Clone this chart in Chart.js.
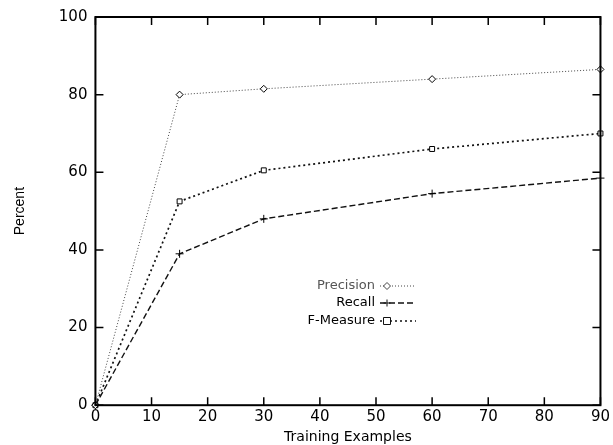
<!DOCTYPE html>
<html>
<head>
<meta charset="utf-8">
<script src="https://cdn.jsdelivr.net/npm/chart.js@4.4.1/dist/chart.umd.min.js"></script>
<style>
  html, body { margin: 0; padding: 0; background: #fff; }
  #wrap { width: 613px; height: 445px; position: relative; }
</style>
</head>
<body>
<div id="wrap"><canvas id="chart"></canvas></div>
<script>
const trainingExamples = [0, 15, 30, 60, 90];
const precision = [0, 80, 81.5, 84, 86.5];
const recall = [0, 39, 48, 54.5, 58.5];
const fMeasure = [0, 52.5, 60.5, 66, 70];
const seriesNames = ["Precision", "Recall", "F-Measure"];

const FONT = "'DejaVu Sans', Verdana, sans-serif";
const NARROW = "'Liberation Sans', Arial, Helvetica, sans-serif";

function pts(values) {
    return trainingExamples.map((x, i) => ({ x, y: values[i] }));
}

const styles = [
    { color: "#444", dash: [1, 2], width: 1, point: "rectRot", radius: 3.5 },
    { color: "#111", dash: [6, 3], width: 1.4, point: "cross", radius: 4 },
    { color: "#111", dash: [2, 3], width: 1.7, point: "rect", radius: 3.5 },
];

const frameTicks = {
    id: "frameTicks",
    afterDraw(chart) {
        const { ctx, chartArea: a, scales: { x, y } } = chart;
        ctx.save();
        ctx.strokeStyle = "#000";
        ctx.lineWidth = 2;
        ctx.strokeRect(a.left, a.top, a.right - a.left, a.bottom - a.top);
        ctx.lineWidth = 1.5;
        ctx.beginPath();
        x.ticks.forEach(t => {
            const px = x.getPixelForValue(t.value);
            ctx.moveTo(px, a.bottom); ctx.lineTo(px, a.bottom - 8);
            ctx.moveTo(px, a.top); ctx.lineTo(px, a.top + 8);
        });
        y.ticks.forEach(t => {
            const py = y.getPixelForValue(t.value);
            ctx.moveTo(a.left, py); ctx.lineTo(a.left + 8, py);
            ctx.moveTo(a.right, py); ctx.lineTo(a.right - 8, py);
        });
        ctx.stroke();

        // key in the middle of the plot
        ctx.font = "13px " + FONT;
        ctx.textAlign = "right";
        ctx.textBaseline = "middle";
        const rows = [286, 303, 321];
        chart.data.datasets.forEach((ds, i) => {
            const st = styles[i];
            const ry = rows[i];
            ctx.fillStyle = i === 0 ? "#555" : "#000";
            ctx.fillText(ds.label, 375, ry);
            ctx.strokeStyle = st.color;
            ctx.lineWidth = st.width;
            ctx.setLineDash(st.dash);
            ctx.beginPath();
            ctx.moveTo(380, ry); ctx.lineTo(416, ry);
            ctx.stroke();
            ctx.setLineDash([]);
            ctx.lineWidth = 1;
            ctx.beginPath();
            const cx = 387, r = 3.5;
            if (st.point === "rectRot") {
                ctx.moveTo(cx - r, ry); ctx.lineTo(cx, ry - r); ctx.lineTo(cx + r, ry); ctx.lineTo(cx, ry + r); ctx.closePath();
                ctx.fillStyle = "#fff"; ctx.fill();
            } else if (st.point === "cross") {
                ctx.moveTo(cx - r, ry); ctx.lineTo(cx + r, ry); ctx.moveTo(cx, ry - r); ctx.lineTo(cx, ry + r);
            } else {
                ctx.rect(cx - r, ry - r, 2 * r, 2 * r);
                ctx.fillStyle = "#fff"; ctx.fill();
            }
            ctx.stroke();
        });
        ctx.restore();
    }
};

const seriesValues = [precision, recall, fMeasure];

new Chart(document.getElementById("chart"), {
    type: "line",
    data: {
        datasets: seriesValues.map((vals, i) => ({
            label: seriesNames[i],
            data: pts(vals),
            borderColor: styles[i].color,
            borderWidth: styles[i].width,
            borderDash: styles[i].dash,
            pointStyle: styles[i].point,
            pointRadius: styles[i].radius,
            pointBorderWidth: 1,
            pointBorderColor: "#000",
            pointBackgroundColor: "#fff",
            fill: false,
            tension: 0,
            clip: false,
        }))
    },
    options: {
        responsive: true,
        maintainAspectRatio: false,
        animation: false,
        layout: { padding: { left: 12, right: 0, top: 16, bottom: 0 } },
        plugins: {
            legend: { display: false },
            tooltip: { enabled: false }
        },
        scales: {
            x: {
                type: "linear",
                min: 0,
                max: 90,
                grid: { display: false, drawTicks: false },
                border: { display: false },
                ticks: { stepSize: 10, color: "#000", padding: 3, font: { family: FONT, size: 15 } },
                title: { display: true, text: "Training Examples", color: "#000", padding: { top: 0, bottom: -1 }, font: { family: FONT, size: 14 } }
            },
            y: {
                min: 0,
                max: 100,
                grid: { display: false, drawTicks: false },
                border: { display: false },
                ticks: { stepSize: 20, color: "#000", padding: 8, font: { family: FONT, size: 15 } },
                title: { display: true, text: "Percent", color: "#000", padding: { top: 0, bottom: 22 }, font: { family: NARROW, size: 14 } }
            }
        }
    },
    plugins: [frameTicks]
});
</script>
</body>
</html>
